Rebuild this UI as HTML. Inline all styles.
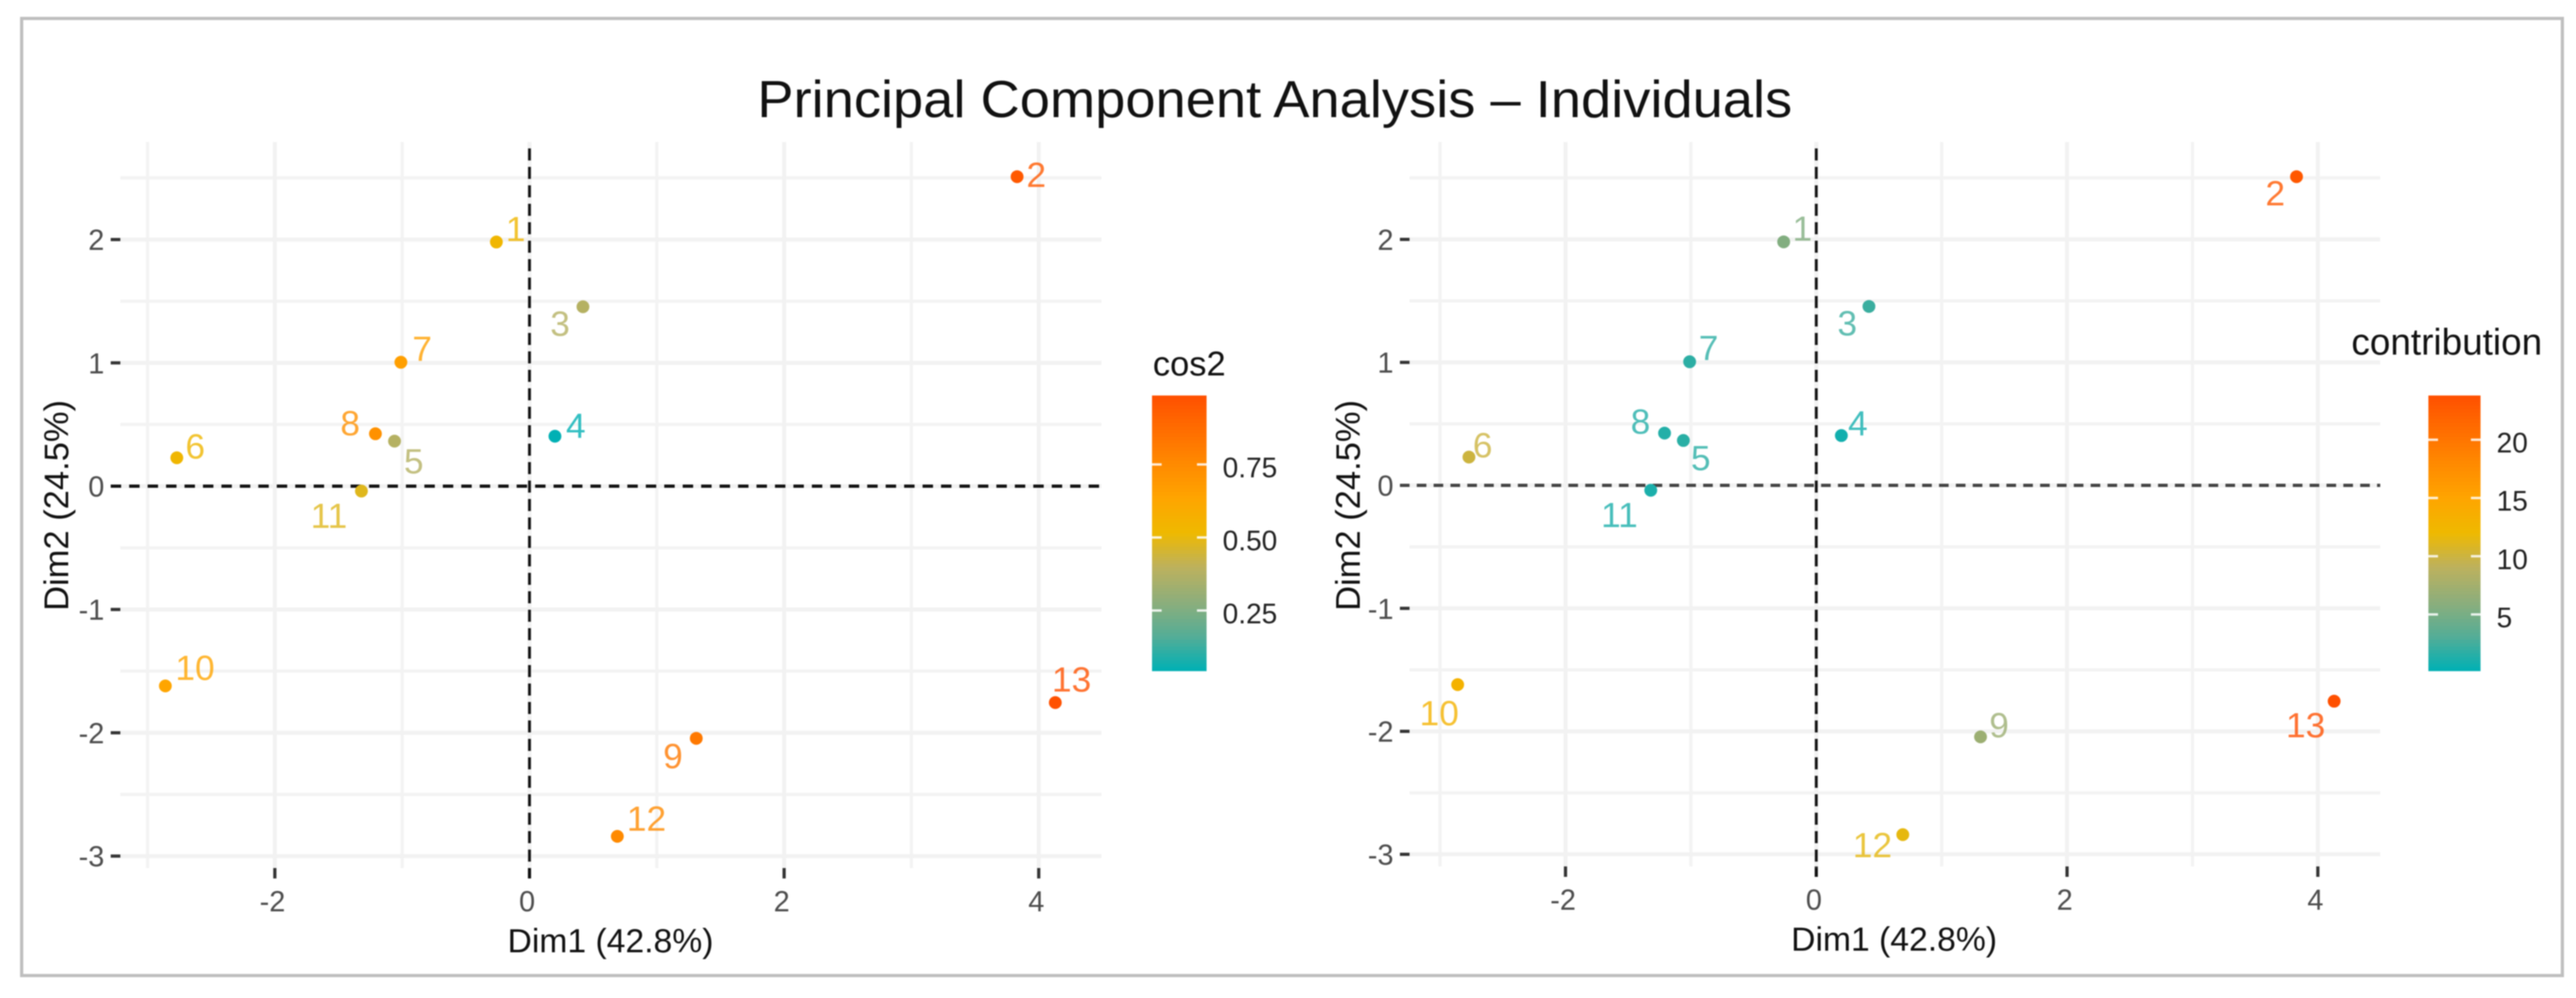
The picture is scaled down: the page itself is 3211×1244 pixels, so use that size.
<!DOCTYPE html>
<html lang="en">
<head>
<meta charset="utf-8">
<title>Principal Component Analysis – Individuals</title>
<style>
html,body{margin:0;padding:0;background:#fff;width:3211px;height:1244px;overflow:hidden}
svg{display:block;filter:blur(.7px)}
text{font-family:"Liberation Sans",sans-serif}
</style>
</head>
<body>
<svg id="chart" xmlns="http://www.w3.org/2000/svg" width="3211" height="1244" viewBox="0 0 3211 1244">
<rect x="0" y="0" width="3211" height="1244" fill="#fff"/>
<rect x="27" y="23" width="3167" height="1193" fill="none" stroke="#bfbfbf" stroke-width="4"/>
<text x="1589" y="146" text-anchor="middle" font-size="65" fill="#111" textLength="1290" lengthAdjust="spacingAndGlyphs">Principal Component Analysis – Individuals</text>
</svg>
<script>
// Individuals, one entry per observation (labels 1..13)
const individuals = ['1','2','3','4','5','6','7','8','9','10','11','12','13'];
const dim1 = [-0.26,3.83,0.42,0.20,-1.06,-2.77,-1.01,-1.21,1.31,-2.86,-1.32,0.69,4.13];
const dim2 = [1.98,2.51,1.455,0.405,0.365,0.23,1.005,0.425,-2.045,-1.62,-0.04,-2.84,-1.755];
const cos2 = [0.53,0.95,0.38,0.045,0.38,0.53,0.66,0.72,0.82,0.63,0.48,0.75,0.98];
const contribution = [5.5,23,2.2,0.8,1.6,10,1.7,1.4,7,13,1.1,11.5,24];

// Repelled label offsets, in axis (data) units
const cosNudgeX = [0.151,0.151,-0.18,0.164,0.151,0.145,0.167,-0.198,-0.183,0.233,-0.255,0.229,0.128];
const cosNudgeY = [0.113,0.02,-0.13,0.088,-0.157,0.097,0.115,0.092,-0.137,0.154,-0.195,0.15,0.195];
const ctrNudgeX = [0.149,-0.17,-0.173,0.132,0.139,0.109,0.151,-0.192,0.148,-0.147,-0.25,-0.242,-0.227];
const ctrNudgeY = [0.114,-0.13,-0.13,0.104,-0.137,0.102,0.117,0.101,0.101,-0.225,-0.196,-0.08,-0.189];

// Axis ticks
const xMajorTicks = [-2,0,2,4];
const xMinorTicks = [-3,-1,1,3];
const yMajorTicks = [-3,-2,-1,0,1,2];
const yMinorTicks = [-2.5,-1.5,-0.5,0.5,1.5,2.5];

// Colour-bar ticks and ranges
const cosLegendTicks = [0.25,0.50,0.75];
const cosLegendLabels = ['0.25','0.50','0.75'];
const cosRange = [0.044,0.986];
const ctrLegendTicks = [5,10,15,20];
const ctrLegendLabels = ['5','10','15','20'];
const ctrRange = [0.17,23.8];

// Shared colour ramp, low to high
const rampColors = ['#00b0b4','#55ad96','#8dae7b','#bcb15e','#eeb900','#ffa500','#ff8a00','#ff6d00','#ff5000'];

const NS = 'http://www.w3.org/2000/svg';
const svg = document.getElementById('chart');

function make(tag, attrs, text) {
  const n = document.createElementNS(NS, tag);
  for (const k in attrs) n.setAttribute(k, attrs[k]);
  if (text !== undefined) n.textContent = text;
  svg.appendChild(n);
  return n;
}

function hexToRgb(h) {
  return [parseInt(h.slice(1,3),16), parseInt(h.slice(3,5),16), parseInt(h.slice(5,7),16)];
}

function rampColor(t) {
  const c = Math.max(0, Math.min(1, t)) * (rampColors.length - 1);
  const i = Math.min(Math.floor(c), rampColors.length - 2);
  const f = c - i;
  const a = hexToRgb(rampColors[i]);
  const b = hexToRgb(rampColors[i + 1]);
  return 'rgb(' + a.map((v, j) => Math.round(v + (b[j] - v) * f)).join(',') + ')';
}

function drawPanel(p) {
  const sx = v => p.x0 + p.xUnit * v;
  const sy = v => p.y0 - p.yUnit * v;
  const norm = v => (v - p.range[0]) / (p.range[1] - p.range[0]);
  let el;

  yMinorTicks.forEach(v => {
    el = make('line', {x1:p.left, x2:p.right, y1:sy(v), y2:sy(v), stroke:'#f3f3f3', 'stroke-width':4});
    
    
  });
  xMinorTicks.forEach(v => {
    el = make('line', {x1:sx(v), x2:sx(v), y1:p.top, y2:p.bottom, stroke:'#f3f3f3', 'stroke-width':4});
    
    
  });
  yMajorTicks.forEach(v => {
    el = make('line', {x1:p.left, x2:p.right, y1:sy(v), y2:sy(v), stroke:'#f2f2f2', 'stroke-width':5});
    
    
    el = make('line', {x1:p.left - 12, x2:p.left, y1:sy(v), y2:sy(v), stroke:'#333', 'stroke-width':4});
    
    
    el = make('text', {x:p.left - 20, y:sy(v) + 13, 'text-anchor':'end', 'font-size':36, fill:'#4d4d4d'}, String(v));
    
    
  });
  xMajorTicks.forEach(v => {
    el = make('line', {x1:sx(v), x2:sx(v), y1:p.top, y2:p.bottom, stroke:'#f2f2f2', 'stroke-width':5});
    
    
    el = make('line', {x1:sx(v), x2:sx(v), y1:p.bottom, y2:p.bottom + 13, stroke:'#333', 'stroke-width':4});
    
    
    el = make('text', {x:sx(v) - 3, y:p.bottom + 54, 'text-anchor':'middle', 'font-size':36, fill:'#4d4d4d'}, String(v));
    
    
  });

  el = make('line', {x1:p.left - 12, x2:p.right, y1:sy(0), y2:sy(0), stroke:p.hDashColor, 'stroke-width':4, 'stroke-dasharray':p.hDash});
  
  
  el = make('line', {x1:sx(0), x2:sx(0), y1:p.top + 8, y2:p.bottom + 13, stroke:'#111', 'stroke-width':3.5, 'stroke-dasharray':'15 8'});
  
  

  individuals.forEach((id, i) => {
    const col = rampColor(norm(p.values[i]));
    el = make('circle', {cx:sx(dim1[i]), cy:sy(dim2[i]), r:8, fill:col});
    
    
    el = make('text', {x:sx(dim1[i] + p.nudgeX[i]), y:sy(dim2[i] + p.nudgeY[i]) + 16, 'text-anchor':'middle', 'font-size':44, fill:col, opacity:0.8}, id);
    
    
  });

  el = make('text', {x:p.xTitleX, y:p.bottom + 105, 'text-anchor':'middle', 'font-size':42, fill:'#111'}, 'Dim1 (42.8%)');
  
  
  el = make('text', {x:0, y:0, transform:'translate(' + p.yTitleX + ',630) rotate(-90)', 'text-anchor':'middle', 'font-size':43, fill:'#111'}, 'Dim2 (24.5%)');
  
  

  // Colour bar
  const legendY = v => p.barBottom - norm(v) * (p.barBottom - p.barTop);
  const sliceH = (p.barBottom - p.barTop) / 80;
  for (let s = 0; s < 80; s++) {
    el = make('rect', {x:p.barLeft, y:p.barTop + s * sliceH, width:p.barRight - p.barLeft, height:sliceH + 0.6, fill:rampColor(1 - (s + 0.5) / 80)});
    
    
  }
  p.legendTicks.forEach((v, i) => {
    const y = legendY(v);
    el = make('line', {x1:p.barLeft, x2:p.barLeft + 12, y1:y, y2:y, stroke:'#fff', 'stroke-width':3, opacity:0.85});
    
    
    el = make('line', {x1:p.barRight - 12, x2:p.barRight, y1:y, y2:y, stroke:'#fff', 'stroke-width':3, opacity:0.85});
    
    
    el = make('text', {x:p.legendLabelX, y:y + 16, 'font-size':35, fill:'#222'}, p.legendLabels[i]);
    
    
  });
  el = make('text', {x:p.legendTitleX, y:p.legendTitleY, 'font-size':p.legendTitleSize, fill:'#111'}, p.legendTitle);
  
  
}

drawPanel({
  x0:660, xUnit:158.7, y0:606, yUnit:153.7,
  left:150, right:1373, top:177, bottom:1082,
  hDash:'13 10', hDashColor:'#111',
  xTitleX:761, yTitleX:85,
  values:cos2, range:cosRange, nudgeX:cosNudgeX, nudgeY:cosNudgeY,
  barLeft:1436, barRight:1504, barTop:493, barBottom:836,
  legendTicks:cosLegendTicks, legendLabels:cosLegendLabels, legendLabelX:1524,
  legendTitle:'cos2', legendTitleX:1437, legendTitleY:468, legendTitleSize:43
});

drawPanel({
  x0:2264, xUnit:156.3, y0:605, yUnit:153.3,
  left:1757, right:2967, top:177, bottom:1080,
  hDash:'12 9', hDashColor:'#444',
  xTitleX:2361, yTitleX:1695,
  values:contribution, range:ctrRange, nudgeX:ctrNudgeX, nudgeY:ctrNudgeY,
  barLeft:3027, barRight:3092, barTop:493, barBottom:836,
  legendTicks:ctrLegendTicks, legendLabels:ctrLegendLabels, legendLabelX:3112,
  legendTitle:'contribution', legendTitleX:2931, legendTitleY:442, legendTitleSize:46
});
</script>
</body>
</html>
